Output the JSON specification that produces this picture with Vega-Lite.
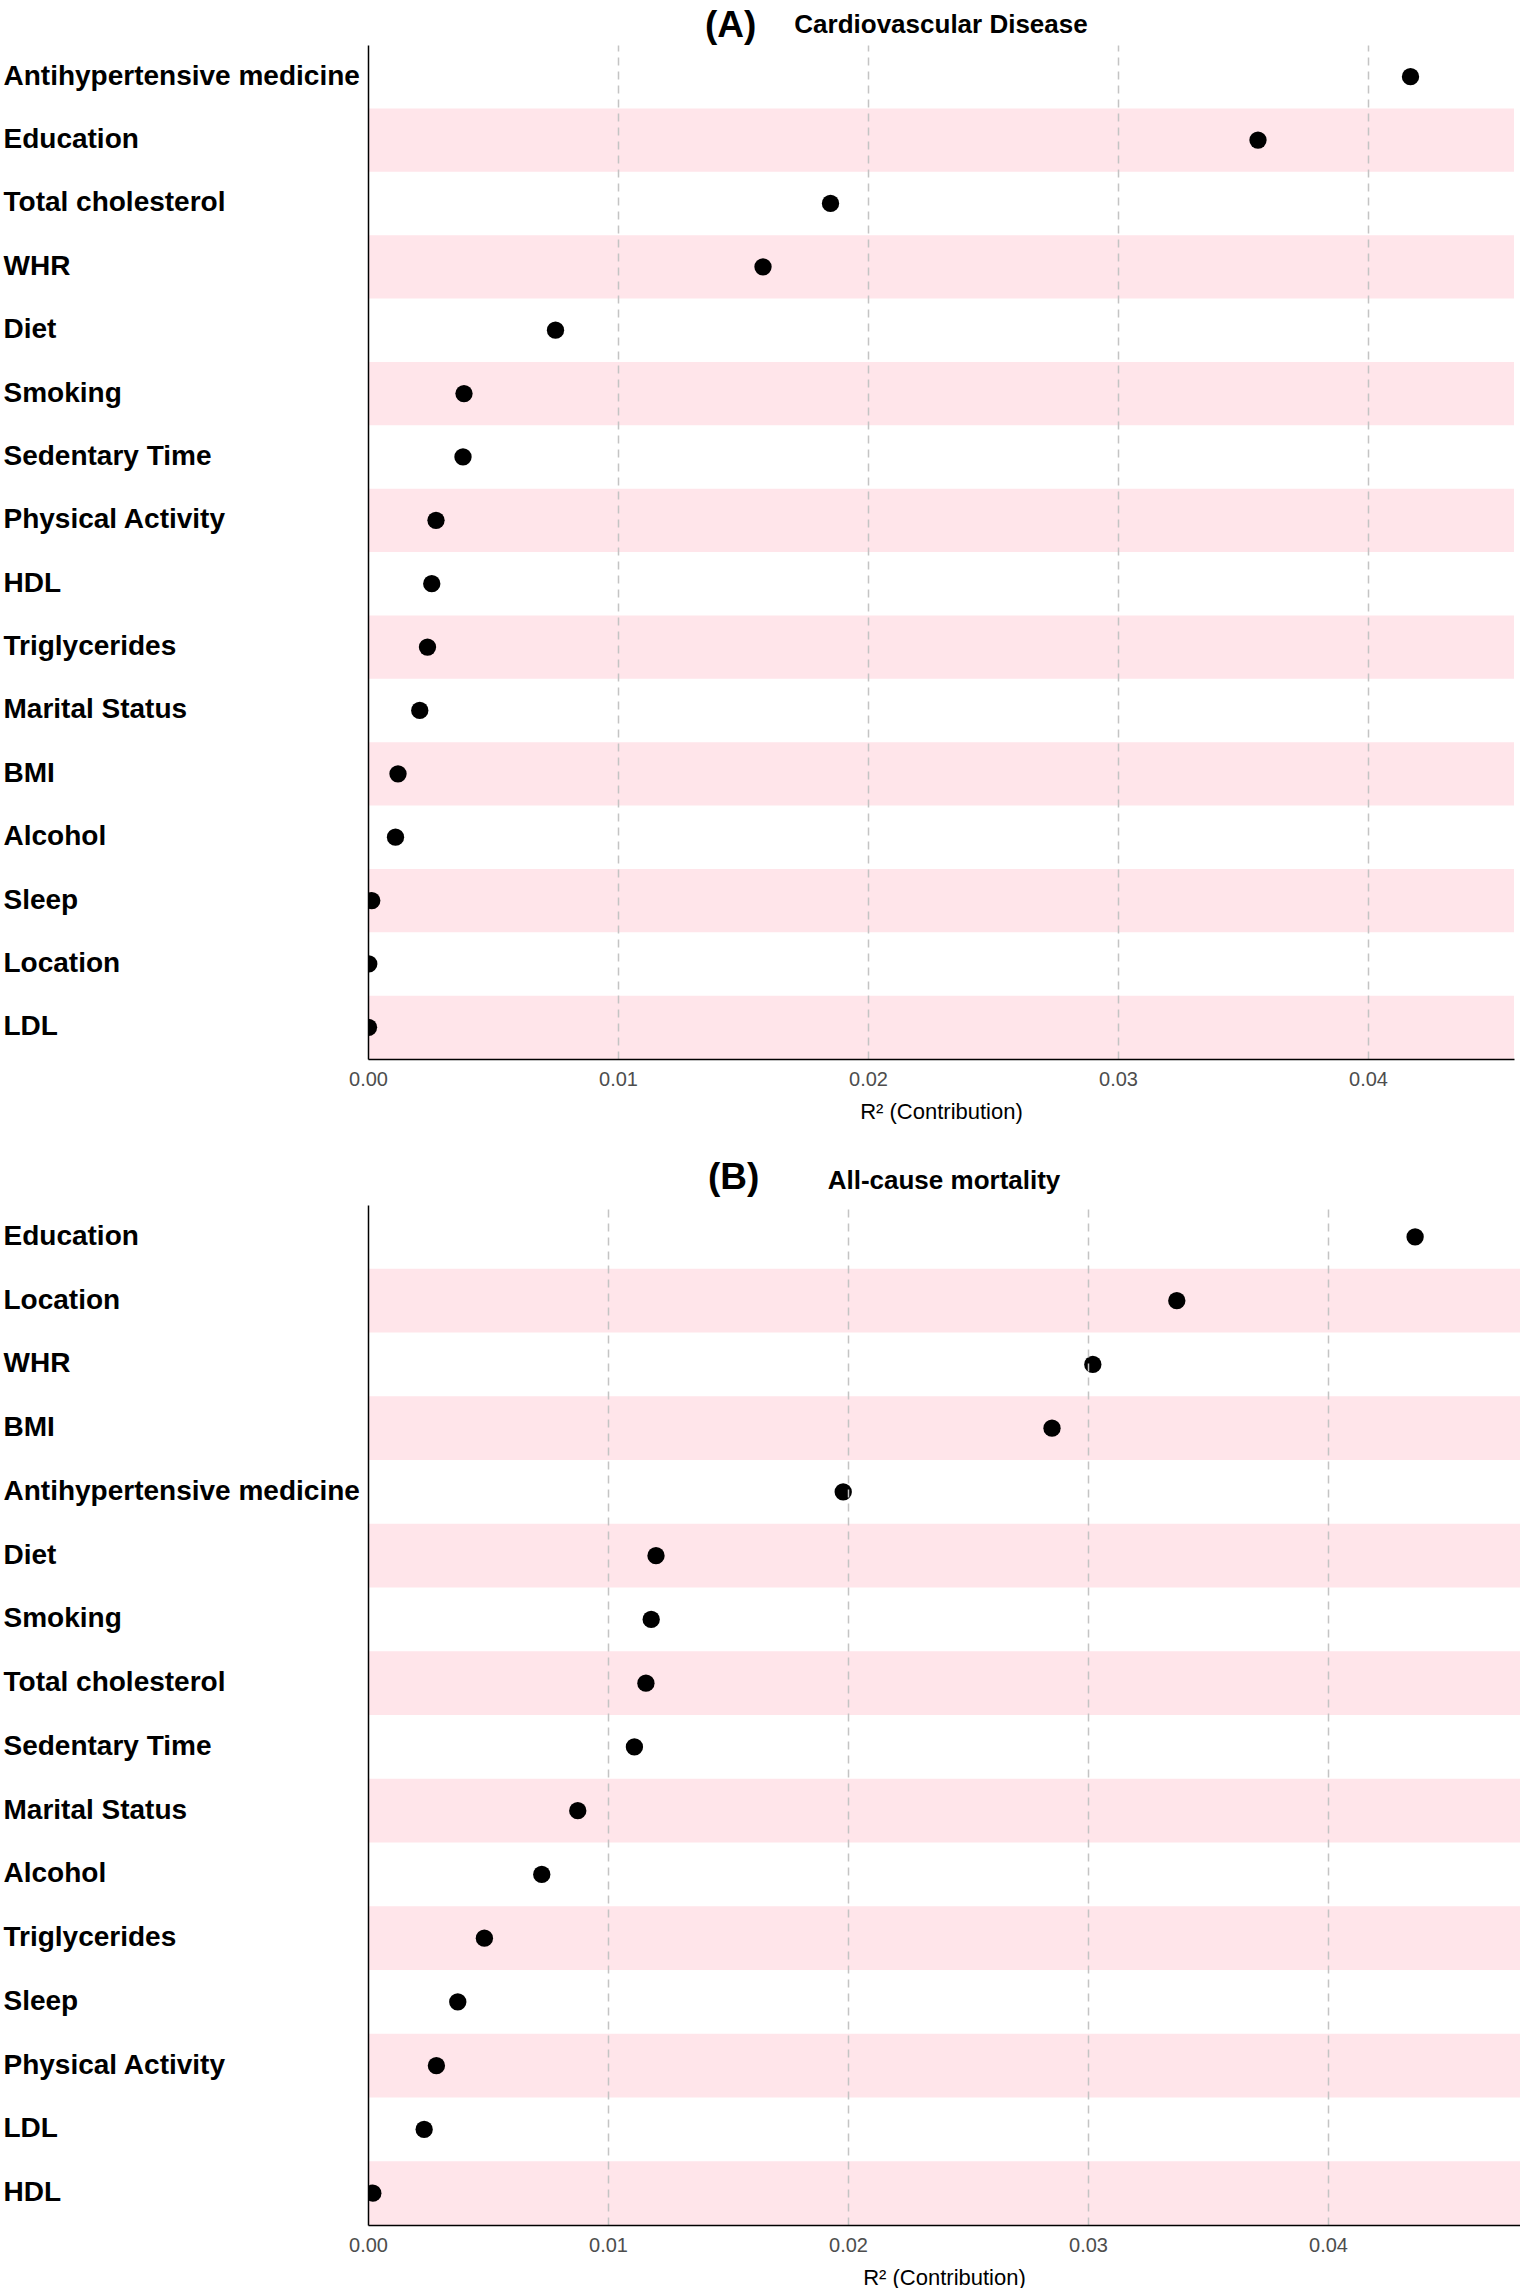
{
  "$schema": "https://vega.github.io/schema/vega-lite/v6.json",
  "background": "white",
  "padding": {"left": 3, "top": 7, "right": 0, "bottom": 0},
  "spacing": 37,
  "config": {"font": "Liberation Sans", "view": {"stroke": null}},
  "datasets": {
    "cvd": [
      {"factor": "Antihypertensive medicine", "r2": 0.0417},
      {"factor": "Education", "r2": 0.0356},
      {"factor": "Total cholesterol", "r2": 0.0185},
      {"factor": "WHR", "r2": 0.0158},
      {"factor": "Diet", "r2": 0.0075},
      {"factor": "Smoking", "r2": 0.00384},
      {"factor": "Sedentary Time", "r2": 0.0038},
      {"factor": "Physical Activity", "r2": 0.00272},
      {"factor": "HDL", "r2": 0.00255},
      {"factor": "Triglycerides", "r2": 0.00238},
      {"factor": "Marital Status", "r2": 0.00207},
      {"factor": "BMI", "r2": 0.0012},
      {"factor": "Alcohol", "r2": 0.0011},
      {"factor": "Sleep", "r2": 0.00015},
      {"factor": "Location", "r2": 0.00003},
      {"factor": "LDL", "r2": 0.00002}
    ],
    "mort": [
      {"factor": "Education", "r2": 0.04363},
      {"factor": "Location", "r2": 0.0337},
      {"factor": "WHR", "r2": 0.0302},
      {"factor": "BMI", "r2": 0.0285},
      {"factor": "Antihypertensive medicine", "r2": 0.0198},
      {"factor": "Diet", "r2": 0.0120},
      {"factor": "Smoking", "r2": 0.0118},
      {"factor": "Total cholesterol", "r2": 0.01158},
      {"factor": "Sedentary Time", "r2": 0.0111},
      {"factor": "Marital Status", "r2": 0.00874},
      {"factor": "Alcohol", "r2": 0.00724},
      {"factor": "Triglycerides", "r2": 0.00485},
      {"factor": "Sleep", "r2": 0.00374},
      {"factor": "Physical Activity", "r2": 0.00285},
      {"factor": "LDL", "r2": 0.00234},
      {"factor": "HDL", "r2": 0.0002}
    ]
  },
  "vconcat": [
    {
      "title": {"text": "(A)", "fontSize": 37, "fontWeight": "bold", "color": "black", "anchor": "start", "align": "left", "dx": 702, "dy": 62, "offset": 0, "baseline": "alphabetic"},
      "vconcat": [
        {
          "width": 1146,
          "height": 1014,
          "title": {"text": "Cardiovascular Disease", "fontSize": 26, "fontWeight": "bold", "color": "black", "anchor": "middle", "frame": "group", "offset": 11, "dy": 25, "baseline": "alphabetic"},
          "data": {"name": "cvd"},
          "transform": [{"window": [{"op": "row_number", "as": "rn"}]}],
          "encoding": {
            "y": {
              "field": "factor", "type": "nominal", "sort": null,
              "scale": {"paddingInner": 0, "paddingOuter": 0},
              "axis": {"title": null, "labelAlign": "left", "labelPadding": 365, "ticks": false, "tickSize": 0, "grid": false, "domainColor": "black", "domainWidth": 1.5, "labelFontSize": 28, "labelFontWeight": "bold", "labelColor": "black", "labelLimit": 500, "zindex": 2}
            }
          },
          "layer": [
            {
              "mark": {"type": "rect"},
              "encoding": {"fill": {"condition": {"test": "datum.rn % 2 === 0", "value": "#FFE5EA"}, "value": "transparent"}}
            },
            {
              "mark": {"type": "point", "filled": true, "size": 300, "color": "black", "opacity": 1, "clip": true},
              "encoding": {
                "x": {
                  "field": "r2", "type": "quantitative",
                  "scale": {"domain": [0, 0.04584], "nice": false, "zero": true},
                  "axis": {"values": [0, 0.01, 0.02, 0.03, 0.04], "format": ".2f", "labelFlush": false, "grid": true, "gridDash": [8, 6], "gridColor": "#c4c4c4", "gridWidth": 1.5, "gridOpacity": {"condition": {"test": "datum.value === 0", "value": 0}, "value": 1}, "ticks": false, "domainColor": "black", "domainWidth": 1.5, "labelFontSize": 20, "labelColor": "#4d4d4d", "labelPadding": 10, "title": "R² (Contribution)", "titleFontSize": 22, "titleFontWeight": "normal", "titleColor": "black", "titlePadding": 12, "zindex": 1}
                }
              }
            }
          ]
        }
      ]
    },
    {
      "title": {"text": "(B)", "fontSize": 37, "fontWeight": "bold", "color": "black", "anchor": "start", "align": "left", "dx": 705, "dy": 58, "offset": 0, "baseline": "alphabetic"},
      "vconcat": [
        {
          "width": 1152,
          "height": 1020,
          "title": {"text": "All-cause mortality", "fontSize": 26, "fontWeight": "bold", "color": "black", "anchor": "middle", "frame": "group", "offset": 11, "dy": 21, "baseline": "alphabetic"},
          "data": {"name": "mort"},
          "transform": [{"window": [{"op": "row_number", "as": "rn"}]}],
          "encoding": {
            "y": {
              "field": "factor", "type": "nominal", "sort": null,
              "scale": {"paddingInner": 0, "paddingOuter": 0},
              "axis": {"title": null, "labelAlign": "left", "labelPadding": 365, "ticks": false, "tickSize": 0, "grid": false, "domainColor": "black", "domainWidth": 1.5, "labelFontSize": 28, "labelFontWeight": "bold", "labelColor": "black", "labelLimit": 500, "zindex": 2}
            }
          },
          "layer": [
            {
              "mark": {"type": "rect"},
              "encoding": {"fill": {"condition": {"test": "datum.rn % 2 === 0", "value": "#FFE5EA"}, "value": "transparent"}}
            },
            {
              "mark": {"type": "point", "filled": true, "size": 300, "color": "black", "opacity": 1, "clip": true},
              "encoding": {
                "x": {
                  "field": "r2", "type": "quantitative",
                  "scale": {"domain": [0, 0.048], "nice": false, "zero": true},
                  "axis": {"values": [0, 0.01, 0.02, 0.03, 0.04], "format": ".2f", "labelFlush": false, "grid": true, "gridDash": [8, 6], "gridColor": "#c4c4c4", "gridWidth": 1.5, "gridOpacity": {"condition": {"test": "datum.value === 0", "value": 0}, "value": 1}, "ticks": false, "domainColor": "black", "domainWidth": 1.5, "labelFontSize": 20, "labelColor": "#4d4d4d", "labelPadding": 10, "title": "R² (Contribution)", "titleFontSize": 22, "titleFontWeight": "normal", "titleColor": "black", "titlePadding": 12, "zindex": 1}
                }
              }
            }
          ]
        }
      ]
    }
  ]
}
